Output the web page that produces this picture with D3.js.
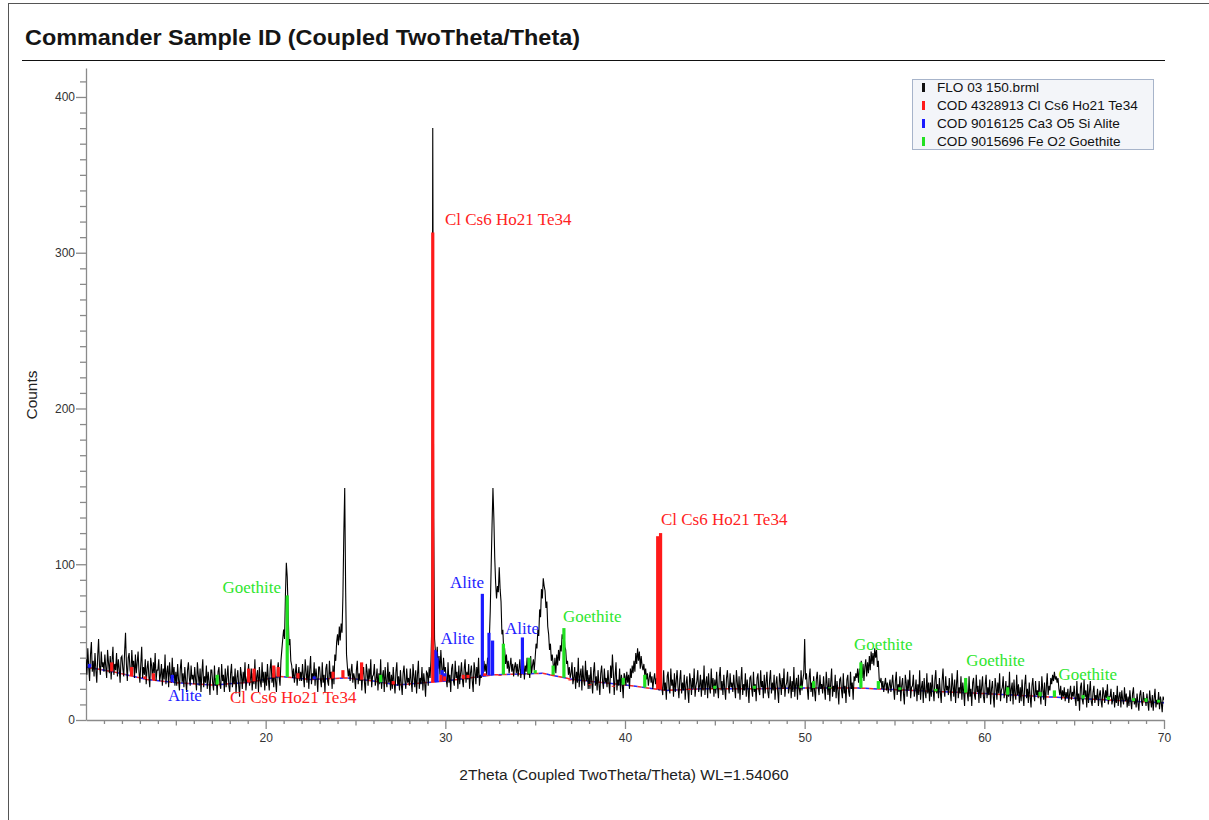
<!DOCTYPE html>
<html><head><meta charset="utf-8">
<script src="https://cdn.jsdelivr.net/npm/d3@7"></script>
<style>body{margin:0;background:#fff}svg{display:block}</style>
</head><body><svg id="chart" width="1209" height="820"></svg>
<script>
// ---------- DATA ----------
// measured counts, one row per degree 2Theta (step 0.05), starting at rowStart
const rowStart = 10;
const countRows = [
 [39,29,46,34,25,42,50,31,38,28,43,32,24,41,52,35,29,44,34,37], //10
 [31,42,34,27,45,37,30,41,26,38,47,29,36,32,43,28,39,33,24,40], //11
 [41,33,28,44,56,36,25,40,43,32,29,45,34,38,27,42,30,37,44,31], //12
 [24,36,47,27,34,29,39,23,33,38,28,21,40,35,26,37,30,43,25,32], //13
 [32,39,25,29,36,22,33,26,42,23,31,35,21,37,28,24,40,27,34,22], //14
 [31,22,36,26,19,33,39,24,30,21,34,25,18,32,37,27,22,35,26,29], //15
 [23,34,26,19,37,29,22,33,18,30,39,21,28,24,35,20,31,25,16,32], //16
 [32,24,19,35,22,27,16,31,34,23,20,36,25,29,18,33,21,28,35,22], //17
 [18,30,36,21,28,23,33,17,27,32,22,15,34,29,20,31,24,37,19,26], //18
 [29,36,22,26,33,19,30,23,39,20,28,32,18,34,25,21,37,24,31,19], //19
 [31,22,36,26,19,33,39,24,30,21,34,25,18,32,37,27,22,38,45,52], //20
 [58,52,80,101,92,70,48,52,38,35,27,33,24,30,36,22,29,34,25,31], //21
 [25,36,28,21,39,31,24,35,20,32,41,23,30,26,37,22,33,27,18,34], //22
 [34,26,21,37,24,29,18,33,36,25,22,38,27,31,20,35,23,42,38,50], //23
 [55,48,60,51,62,56,80,120,149,85,42,34,28,33,25,31,36,24,30,27], //24
 [20,32,38,23,30,25,35,19,29,34,24,17,36,31,22,33,26,39,21,28], //25
 [29,36,22,26,33,19,30,23,39,20,28,32,18,34,25,21,37,24,31,19], //26
 [29,20,34,24,17,31,37,22,28,19,32,23,16,30,35,25,20,33,24,27], //27
 [22,33,25,18,36,28,21,32,17,29,38,20,27,23,34,19,30,24,15,31], //28
 [30,22,34,27,38,62,380,130,52,44,38,47,33,41,29,45,34,26,40,31], //29
 [34,26,21,37,24,29,18,33,36,25,22,38,27,31,20,35,23,30,37,26], //30
 [21,33,39,24,31,26,36,20,30,35,25,18,37,32,23,34,27,40,22,29], //31
 [27,35,30,38,31,36,29,40,36,52,70,98,125,149,130,104,88,78,86,82], //32
 [98,84,76,55,58,44,46,36,42,33,38,30,35,40,31,36,28,34,37,30], //33
 [36,28,33,39,27,34,30,38,26,35,31,40,29,33,27,41,30,35,39,32], //34
 [40,49,46,58,54,71,66,84,78,91,86,83,72,76,60,55,45,49,38,42], //35
 [36,31,40,30,42,35,45,38,48,44,55,52,58,47,45,36,38,29,34,27], //36
 [30,37,23,27,34,20,31,24,40,21,29,33,19,35,26,22,38,25,32,20], //37
 [29,20,34,24,17,31,37,22,28,19,32,23,16,30,35,25,20,33,24,27], //38
 [21,32,24,17,35,27,42,31,16,28,37,19,26,22,33,18,29,23,14,30], //39
 [28,22,31,24,29,20,33,27,35,30,38,31,43,36,46,38,44,33,41,35], //40
 [32,36,29,33,26,30,22,27,31,24,28,20,26,30,23,27,21,25,19,24], //41
 [29,21,16,32,19,24,13,28,31,20,17,33,22,26,15,30,18,25,32,21], //42
 [14,26,32,17,24,19,29,13,23,28,18,11,30,25,16,27,20,33,15,22], //43
 [25,32,18,22,29,15,26,19,35,16,24,28,14,30,21,17,33,20,27,15], //44
 [26,17,31,21,14,28,34,19,25,16,29,20,13,27,32,22,17,30,21,24], //45
 [18,29,21,14,32,24,17,28,13,25,34,16,23,19,30,15,26,20,11,27], //46
 [28,20,15,31,18,23,12,27,30,19,16,32,21,25,14,29,17,24,31,18], //47
 [14,26,32,17,24,19,29,13,23,28,18,11,30,25,16,27,20,33,15,22], //48
 [24,31,17,21,28,14,25,18,34,15,23,27,13,29,20,16,32,19,26,30], //49
 [52,26,30,20,13,27,33,18,24,15,28,19,12,26,31,21,16,29,20,23], //50
 [17,28,20,13,31,23,16,27,12,24,33,15,22,18,29,14,25,19,10,26], //51
 [27,19,14,30,17,22,11,26,29,18,15,31,20,24,13,28,25,30,27,33], //52
 [24,33,29,38,27,36,25,34,39,28,37,30,41,32,44,36,43,35,46,40], //53
 [45,34,38,26,24,27,20,25,18,23,27,19,24,17,22,26,18,23,29,20], //54
 [13,25,31,16,23,18,28,12,22,27,17,10,29,24,15,26,19,32,14,21], //55
 [22,29,15,19,26,12,23,16,32,13,21,25,11,27,18,14,30,17,24,12], //56
 [24,15,29,19,12,26,32,17,23,14,27,18,11,25,33,20,15,28,19,22], //57
 [16,27,19,12,30,22,15,26,11,23,32,14,21,17,28,13,24,18,9,25], //58
 [25,17,12,28,15,20,9,24,27,16,13,29,18,22,11,26,14,21,28,15], //59
 [11,23,29,14,21,16,26,10,20,25,15,8,27,22,13,24,17,30,12,19], //60
 [21,28,14,18,25,11,22,15,31,12,20,24,10,26,17,13,29,16,23,11], //61
 [21,12,26,16,9,23,29,14,20,11,24,15,8,22,27,17,12,25,16,19], //62
 [14,25,17,10,28,20,13,24,9,21,30,16,22,19,27,23,29,25,31,26], //63
 [28,24,27,20,16,22,13,19,15,21,12,18,14,20,11,17,22,13,18,15], //64
 [22,14,9,25,12,17,6,21,24,13,10,26,15,19,8,23,11,18,25,12], //65
 [9,18,22,11,16,13,20,9,16,19,12,8,21,17,11,19,14,23,10,15], //66
 [15,20,10,13,18,8,16,11,22,9,15,18,8,19,13,10,21,12,17,8], //67
 [15,9,19,12,7,17,21,10,14,8,17,11,6,16,19,12,9,18,12,14], //68
 [9,17,11,6,19,13,8,16,6,14,20,8,13,10,18,7,15,11,5,15]  //69
];
const rowStep = 0.05;
const lastTheta = 70, lastCount = 13;

// background curve of the reference patterns
const bgTheta  = [10, 11.5, 13.4, 15, 17, 19, 20.8, 22.5, 24.5, 26, 27.3, 30, 32.7, 35.4, 37.1, 40, 42.3, 44.2, 47, 49.7, 53, 56, 60, 65, 70];
const bgCounts = [34, 31, 26, 24, 22.5, 24, 28, 26, 27, 25, 22.5, 25, 29, 30, 26, 22.5, 19, 20, 20, 20.5, 20.5, 19, 17, 14, 11];

// stick patterns (position, top count)
const redTheta = [11.43, 12.54, 13.28, 13.75, 19.05, 19.35, 20.45, 20.7, 21.8, 23.75, 24.3, 25.34, 27.1, 29.3, 29.75, 29.95, 31.0, 31.26, 32.2, 33.04, 36.0, 36.94, 38.05, 39.35, 41.82, 41.98, 43.6];
const redTop   = [37, 34, 28, 30, 33, 33, 35, 34, 30, 31, 32, 37, 25, 313, 29, 28, 29, 29, 30, 29, 29, 26, 23, 22, 118, 120, 20];
const blueTheta = [10.2, 14.8, 22.7, 29.36, 29.42, 29.48, 29.54, 29.82, 29.97, 32.06, 32.43, 32.63, 34.29];
const blueTop   = [36, 29, 28, 45, 45, 44, 40, 32, 30, 81, 56, 51, 53];
const greenTheta = [17.3, 21.2, 26.4, 33.23, 34.66, 35.0, 36.0, 36.6, 39.9, 41.1, 45.0, 47.2, 49.8, 50.5, 51.4, 53.13, 54.1, 55.3, 57.3, 58.96, 61.3, 63.1, 63.9, 65.5, 66.9, 68.3, 69.0, 69.7];
const greenTop   = [29, 80, 29, 49, 40, 32, 35, 59, 27, 29, 22, 22, 22, 25, 21, 37, 25, 21, 20, 27, 21, 18, 19, 16, 15, 14, 14, 13];

// phase labels
const redLabelTheta = [29.98, 42.0, 18.01];
const redLabelCount = [317.8, 125.2, 10.9];
const blueLabelTheta = [30.26, 29.73, 33.32, 14.56];
const blueLabelCount = [84.8, 48.8, 55.2, 12.2];
const greenLabelTheta = [17.6, 36.55, 52.75, 59.0, 64.13];
const greenLabelCount = [81.5, 62.9, 44.9, 34.7, 25.7];

const xTickValues = [20, 30, 40, 50, 60, 70];
const yTickValues = [0, 100, 200, 300, 400];
const legendLabels = ["FLO 03 150.brml", "COD 4328913 Cl Cs6 Ho21 Te34", "COD 9016125 Ca3 O5 Si Alite", "COD 9015696 Fe O2 Goethite"];
const legendColors = ["#111111", "#ff1a1a", "#1a1aff", "#22e022"];
const titleText = "Commander Sample ID (Coupled TwoTheta/Theta)";
const xTitle = "2Theta (Coupled TwoTheta/Theta) WL=1.54060";
const yTitle = "Counts";

// ---------- DRAW ----------
const svg = d3.select("#chart");
const x = d3.scaleLinear().domain([10, 70]).range([86, 1164]);
const y = d3.scaleLinear().domain([0, 418.6]).range([720, 68]);
const bg = d3.scaleLinear().domain(bgTheta).range(bgCounts);
const sans = "Liberation Sans, Arial, sans-serif";

// frame + title
svg.append("line").attr("x1", 8.5).attr("x2", 8.5).attr("y1", 3).attr("y2", 820).attr("stroke", "#555");
svg.append("line").attr("x1", 8).attr("x2", 1209).attr("y1", 3.5).attr("y2", 3.5).attr("stroke", "#555");
svg.append("text").attr("x", 25).attr("y", 45).text(titleText)
  .attr("textLength", 555).attr("lengthAdjust", "spacingAndGlyphs")
  .attr("font-family", sans).attr("font-size", 22).attr("font-weight", "bold").attr("fill", "#151515");
svg.append("line").attr("x1", 22).attr("x2", 1165).attr("y1", 60.5).attr("y2", 60.5).attr("stroke", "#111");

// clip
svg.append("defs").append("clipPath").attr("id", "plotclip").append("rect")
  .attr("x", 86).attr("y", 60).attr("width", 1078).attr("height", 660);

// axes
const axisColor = "#8a8a8a";
function styleAxis(g) {
  g.selectAll("path,line").attr("stroke", axisColor).attr("stroke-width", 1.3);
  g.selectAll("text").attr("font-family", sans).attr("font-size", 12).attr("fill", "#333");
}
const minorX = d3.range(11, 70).filter(d => d % 10 !== 0);
svg.append("g").attr("transform", "translate(0,720)")
  .call(d3.axisBottom(x).tickValues(minorX.filter(d => d % 5 !== 0)).tickSize(4).tickSizeOuter(0).tickFormat(""))
  .call(styleAxis);
svg.append("g").attr("transform", "translate(0,720)")
  .call(d3.axisBottom(x).tickValues(minorX.filter(d => d % 5 === 0)).tickSize(5.5).tickSizeOuter(0).tickFormat(""))
  .call(styleAxis).call(g => g.select(".domain").remove());
svg.append("g").attr("transform", "translate(0,720)")
  .call(d3.axisBottom(x).tickValues(xTickValues).tickSize(9).tickSizeOuter(0).tickPadding(4))
  .call(styleAxis).call(g => g.select(".domain").remove());

const minorY = d3.range(10, 420, 10).filter(d => d % 100 !== 0);
svg.append("g").attr("transform", "translate(86,0)")
  .call(d3.axisLeft(y).tickValues(minorY).tickSize(6).tickSizeOuter(0).tickFormat(""))
  .call(styleAxis);
svg.append("g").attr("transform", "translate(86,0)")
  .call(d3.axisLeft(y).tickValues(yTickValues).tickSize(10).tickSizeOuter(0).tickPadding(1))
  .call(styleAxis).call(g => g.select(".domain").remove());

svg.append("text").attr("x", 624).attr("y", 780).attr("text-anchor", "middle").text(xTitle)
  .attr("font-family", sans).attr("font-size", 15.5).attr("fill", "#222");
svg.append("text").attr("transform", "translate(37,395) rotate(-90)").attr("text-anchor", "middle").text(yTitle)
  .attr("font-family", sans).attr("font-size", 15.5).attr("fill", "#222");

const plot = svg.append("g").attr("clip-path", "url(#plotclip)");

// background curve (dashed red/blue over a faint grey line)
const bgData = bgTheta.map((t, i) => [t, bgCounts[i]]);
const bgLine = d3.line().x(d => x(d[0])).y(d => y(d[1]));
plot.append("path").datum(bgData).attr("d", bgLine).attr("fill", "none").attr("stroke", "#bbbbbb").attr("stroke-width", 1);
plot.append("path").datum(bgData).attr("d", bgLine).attr("fill", "none").attr("stroke", "#2a2aff").attr("stroke-width", 1.5).attr("stroke-dasharray", "4,4");
plot.append("path").datum(bgData).attr("d", bgLine).attr("fill", "none").attr("stroke", "#ff2a2a").attr("stroke-width", 1.5).attr("stroke-dasharray", "4,4").attr("stroke-dashoffset", 4);

// measured trace
const trace = [];
countRows.forEach((row, r) => row.forEach((c, i) => trace.push([rowStart + r + i * rowStep, c])));
trace.push([lastTheta, lastCount]);
plot.append("path").datum(trace)
  .attr("d", d3.line().x(d => x(d[0])).y(d => y(d[1])))
  .attr("fill", "none").attr("stroke", "#000").attr("stroke-width", 1.1).attr("stroke-linejoin", "miter");

// sticks
function sticks(thetas, tops, color) {
  const data = thetas.map((t, i) => ({t, top: tops[i]}));
  plot.append("g").selectAll("rect").data(data).join("rect")
    .attr("x", d => x(d.t) - 1.6).attr("width", 3.2)
    .attr("y", d => y(d.top))
    .attr("height", d => Math.max(1, y(bg(d.t)) - y(d.top)))
    .attr("fill", color);
}
sticks(greenTheta, greenTop, "#22e022");
sticks(blueTheta, blueTop, "#1a1aff");
sticks(redTheta, redTop, "#ff1a1a");

// phase labels
function labels(thetas, counts, text, color) {
  svg.append("g").selectAll("text").data(thetas.map((t, i) => [t, counts[i]])).join("text")
    .attr("x", d => x(d[0])).attr("y", d => y(d[1])).text(text)
    .attr("font-family", "Liberation Serif, Times New Roman, serif").attr("font-size", 17).attr("fill", color);
}
labels(redLabelTheta, redLabelCount, "Cl Cs6 Ho21 Te34", "#ff2222");
labels(blueLabelTheta, blueLabelCount, "Alite", "#2222ff");
labels(greenLabelTheta, greenLabelCount, "Goethite", "#2ee62e");

// legend
const lg = svg.append("g").attr("transform", "translate(912,79)");
lg.append("rect").attr("x", 0.5).attr("y", 0.5).attr("width", 241).attr("height", 70)
  .attr("fill", "#f3f5f9").attr("stroke", "#a7b4ca");
legendLabels.forEach((lab, i) => {
  const cy = 8 + i * 18;
  lg.append("rect").attr("x", 10).attr("y", cy - 4).attr("width", 3).attr("height", 9).attr("fill", legendColors[i]);
  lg.append("text").attr("x", 25).attr("y", cy + 4.5).text(lab)
    .attr("font-family", sans).attr("font-size", 13.6).attr("fill", "#111");
});
</script></body></html>
